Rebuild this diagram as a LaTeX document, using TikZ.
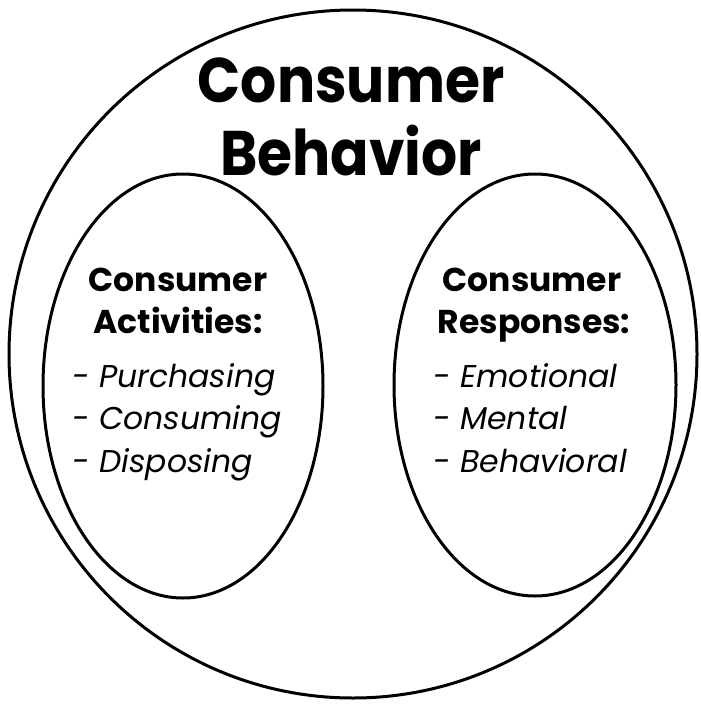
\documentclass[tikz,border=0pt]{standalone}
\usepackage{fontspec}
\setmainfont{Poppins}
\newfontfamily\titlefont[FakeStretch=0.9]{Poppins}
\usetikzlibrary{shapes.geometric}
\tikzset{
  ring/.style={draw, line width=3pt, ellipse, inner sep=0pt},
  title/.style={anchor=base, font=\titlefont\fontsize{63}{63}\selectfont\bfseries},
  head/.style={anchor=base, font=\fontsize{33}{33}\selectfont\bfseries},
  item/.style={anchor=base west, font=\fontsize{31.5}{31.5}\selectfont\itshape},
}
\begin{document}
\begin{tikzpicture}[x=1pt,y=-1pt]
\useasboundingbox (0,0) rectangle (701,704);
\node[ring, minimum width=688pt, minimum height=688pt] (outer) at (353,354) {};
\node[ring, minimum width=280pt, minimum height=424pt] (left) at (183,386) {};
\node[ring, minimum width=282pt, minimum height=422pt] (right) at (535,385) {};
\node[title] (t1) at (351,102) {Consumer};
\node[title] (t2) at (351,175) {Behavior};
\node[head] (l1) at (178,291) {Consumer};
\node[head] (l2) at (178,333) {Activities:};
\node[head] (r1) at (532,291) {Consumer};
\node[head] (r2) at (534,333) {Responses:};
\node[item] (li1) at (69,387) {- Purchasing};
\node[item] (li2) at (69,429) {- Consuming};
\node[item] (li3) at (69,472) {- Disposing};
\node[item] (ri1) at (430,387) {- Emotional};
\node[item] (ri2) at (430,429) {- Mental};
\node[item] (ri3) at (430,472) {- Behavioral};
\end{tikzpicture}
\end{document}
